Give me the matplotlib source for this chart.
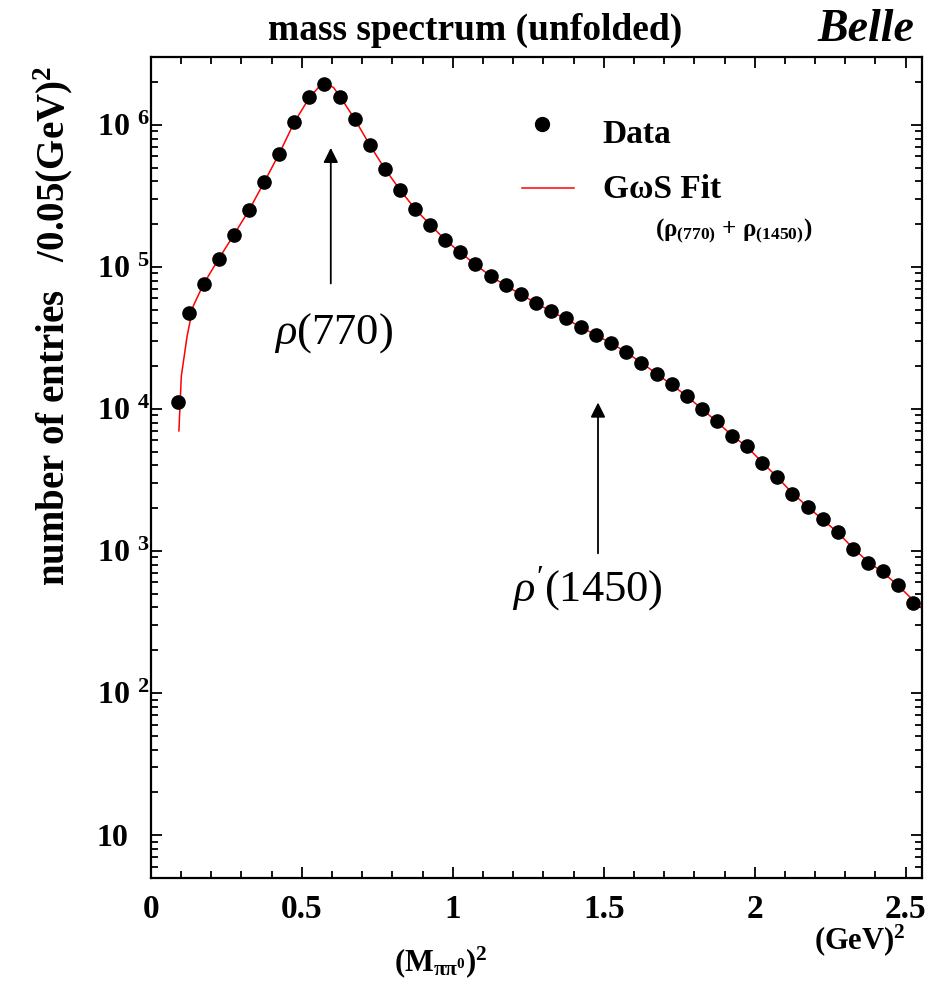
import matplotlib
matplotlib.use("Agg")
import matplotlib.pyplot as plt
from matplotlib.ticker import FixedLocator, FixedFormatter, LogLocator, MultipleLocator, NullFormatter

plt.rcParams["font.family"] = ["Liberation Serif", "DejaVu Serif"]
plt.rcParams["mathtext.fontset"] = "custom"
plt.rcParams["mathtext.rm"] = "Liberation Serif"
plt.rcParams["mathtext.it"] = "Liberation Serif:italic"
plt.rcParams["mathtext.bf"] = "Liberation Serif:bold"

# unfolded spectrum, bins of 0.05 GeV^2
data_x = [0.09, 0.125, 0.175, 0.225, 0.275, 0.325, 0.375, 0.425, 0.475, 0.525,
          0.575, 0.625, 0.675, 0.725, 0.775, 0.825, 0.875, 0.925, 0.975, 1.025,
          1.075, 1.125, 1.175, 1.225, 1.275, 1.325, 1.375, 1.425, 1.475, 1.525,
          1.575, 1.625, 1.675, 1.725, 1.775, 1.825, 1.875, 1.925, 1.975, 2.025,
          2.075, 2.125, 2.175, 2.225, 2.275, 2.325, 2.375, 2.425, 2.475, 2.525]
data_y = [1.12e4, 4.74e4, 7.6e4, 1.14e5, 1.68e5, 2.5e5, 3.93e5, 6.25e5, 1.04e6, 1.58e6,
          1.93e6, 1.58e6, 1.10e6, 7.2e5, 4.9e5, 3.49e5, 2.56e5, 1.98e5, 1.55e5, 1.27e5,
          1.05e5, 8.57e4, 7.5e4, 6.44e4, 5.57e4, 4.86e4, 4.33e4, 3.76e4, 3.3e4, 2.92e4,
          2.5e4, 2.11e4, 1.77e4, 1.49e4, 1.23e4, 1.0e4, 8.2e3, 6.43e3, 5.47e3, 4.13e3,
          3.33e3, 2.5e3, 2.05e3, 1.67e3, 1.37e3, 1.03e3, 828, 723, 575, 429]

# G-S fit curve
fit_x = [0.093, 0.101, 0.12, 0.14, 0.175, 0.225, 0.275, 0.325, 0.375, 0.425,
         0.475, 0.525, 0.555, 0.58, 0.605, 0.625, 0.675, 0.725, 0.775, 0.825,
         0.875, 0.925, 0.975, 1.025, 1.075, 1.125, 1.175, 1.225, 1.275, 1.325,
         1.375, 1.425, 1.475, 1.525, 1.575, 1.625, 1.675, 1.725, 1.775, 1.825,
         1.875, 1.925, 1.975, 2.025, 2.075, 2.125, 2.175, 2.225, 2.275, 2.325,
         2.375, 2.425, 2.475, 2.55]
fit_y = [7.0e3, 1.7e4, 3.24e4, 5.27e4, 7.6e4, 1.14e5, 1.68e5, 2.5e5, 3.93e5, 6.25e5,
         1.04e6, 1.55e6, 1.83e6, 1.94e6, 1.83e6, 1.6e6, 1.10e6, 7.2e5, 4.9e5, 3.49e5,
         2.56e5, 1.98e5, 1.55e5, 1.26e5, 1.04e5, 8.6e4, 7.4e4, 6.4e4, 5.57e4, 4.86e4,
         4.3e4, 3.76e4, 3.3e4, 2.9e4, 2.5e4, 2.11e4, 1.77e4, 1.48e4, 1.23e4, 1.0e4,
         8.1e3, 6.5e3, 5.4e3, 4.2e3, 3.3e3, 2.55e3, 2.05e3, 1.66e3, 1.35e3, 1.05e3,
         840, 705, 570, 400]

ytick_vals = [10, 1e2, 1e3, 1e4, 1e5, 1e6]
ytick_text = ["10", "10 $^{\\mathbf{2}}$", "10 $^{\\mathbf{3}}$", "10 $^{\\mathbf{4}}$",
              "10 $^{\\mathbf{5}}$", "10 $^{\\mathbf{6}}$"]
xtick_vals = [0, 0.5, 1, 1.5, 2, 2.5]
xtick_text = ["0", "0.5", "1", "1.5", "2", "2.5"]

fig = plt.figure(figsize=(9.31, 9.83), dpi=100)
ax = fig.add_axes([0.162, 0.107, 0.828, 0.835])

ax.plot(fit_x, fit_y, color="red", lw=1.1, zorder=2)
ax.plot(data_x, data_y, "o", color="black", ms=9.5, zorder=3)

ax.set_yscale("log")
ax.set_xlim(0, 2.553)
ax.set_ylim(5, 3e6)

ax.xaxis.set_major_locator(FixedLocator(xtick_vals))
ax.xaxis.set_major_formatter(FixedFormatter(xtick_text))
ax.xaxis.set_minor_locator(MultipleLocator(0.1))
ax.yaxis.set_major_locator(FixedLocator(ytick_vals))
ax.yaxis.set_major_formatter(FixedFormatter(ytick_text))
ax.yaxis.set_minor_locator(LogLocator(base=10, subs=range(2, 10), numticks=20))
ax.yaxis.set_minor_formatter(NullFormatter())

ax.tick_params(which="both", direction="in", top=True, right=True, width=1.3)
ax.tick_params(which="major", length=8)
ax.tick_params(which="minor", length=5)
ax.tick_params(axis="x", which="major", pad=12, labelsize=24)
ax.tick_params(axis="y", which="major", pad=39, labelsize=23)
for lab in ax.get_xticklabels():
    lab.set_fontweight("bold")
for lab in ax.get_yticklabels():
    lab.set_fontweight("bold")
    lab.set_horizontalalignment("left")
for sp in ax.spines.values():
    sp.set_linewidth(1.6)

# arrows and resonance labels
ax.annotate("", xy=(0.596, 7.2e5), xytext=(0.596, 7.3e4),
            arrowprops=dict(arrowstyle="-|>", color="black", lw=1.3, mutation_scale=22))
ax.text(0.606, 3.44e4, r"$\rho$(770)", fontsize=32, ha="center", va="center")
ax.annotate("", xy=(1.481, 1.16e4), xytext=(1.481, 920),
            arrowprops=dict(arrowstyle="-|>", color="black", lw=1.3, mutation_scale=22))
ax.text(1.447, 546, r"$\rho^{\prime}$(1450)", fontsize=32, ha="center", va="center")

# hand-made legend
ax.plot([0.508], [0.918], "o", color="black", ms=10, transform=ax.transAxes, clip_on=False)
ax.text(0.586, 0.905, "Data", fontsize=24, fontweight="bold", va="center", transform=ax.transAxes)
ax.plot([0.482, 0.549], [0.840, 0.840], color="red", lw=1.1, transform=ax.transAxes)
ax.text(0.586, 0.838, "G\u03c9S Fit", fontsize=24, fontweight="bold", va="center",
        transform=ax.transAxes)
ax.text(0.654, 0.789, r"($\mathbf{\rho_{(770)}}$ + $\mathbf{\rho_{(1450)}}$)", fontsize=18,
        fontweight="bold", va="center", transform=ax.transAxes)

fig.text(0.510, 0.969, "mass spectrum (unfolded)", fontsize=27, fontweight="bold",
         ha="center", va="center")
fig.text(0.930, 0.969, "Belle", fontsize=33, fontweight="bold", style="italic",
         ha="center", va="center")
fig.text(0.057, 0.668, "number of entries   /0.05(GeV)$^{\\mathbf{2}}$", fontsize=28,
         fontweight="bold", rotation=90, ha="center", va="center")
fig.text(0.473, 0.039, r"$\mathbf{(M_{\pi\pi^{0}})^{2}}$", fontsize=22, fontweight="bold",
         ha="center", va="top")
fig.text(0.924, 0.044, "(GeV)$^{\\mathbf{2}}$", fontsize=22, fontweight="bold",
         ha="center", va="center")

fig.savefig("out.png", dpi=100)
